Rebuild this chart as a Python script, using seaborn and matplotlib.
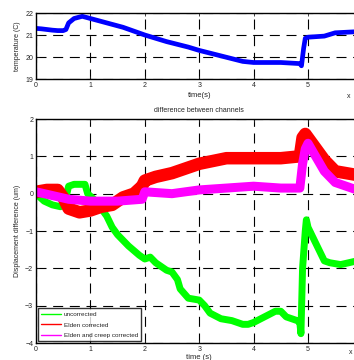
import matplotlib
matplotlib.use("Agg")
import matplotlib.pyplot as plt
import seaborn as sns

# temperature (top panel), time in units of 1e4 s
temp_t = [0.0, 0.1, 0.2, 0.3, 0.4, 0.5, 0.55, 0.6, 0.7, 0.85, 1.0, 1.3, 1.6, 2.0,
          2.4, 2.8, 3.0, 3.4, 3.8, 4.0, 4.5, 4.85, 4.88, 4.92, 4.95, 5.0, 5.3, 5.5, 5.9]
temp_v = [21.3, 21.28, 21.25, 21.22, 21.2, 21.2, 21.25, 21.55, 21.75, 21.85, 21.75, 21.55, 21.35, 21.0,
          20.7, 20.45, 20.3, 20.05, 19.8, 19.75, 19.75, 19.7, 19.6, 20.4, 20.85, 20.9, 20.95, 21.1, 21.15]

# displacement difference (bottom panel)
green_t = [0.0, 0.15, 0.3, 0.45, 0.55, 0.6, 0.7, 0.9, 0.95, 1.1, 1.3, 1.4, 1.5, 1.7, 1.9, 2.0, 2.1,
           2.2, 2.4, 2.5, 2.6, 2.65, 2.8, 3.0, 3.1, 3.2, 3.4, 3.6, 3.8, 3.9, 4.0, 4.2, 4.4, 4.5,
           4.6, 4.8, 4.85, 4.87, 4.9, 4.95, 4.97, 5.0, 5.1, 5.2, 5.3, 5.4, 5.6, 5.9]
green_v = [0.0, -0.2, -0.3, -0.35, -0.1, 0.2, 0.25, 0.25, 0.0, -0.2, -0.6, -0.9, -1.1, -1.4, -1.65, -1.75, -1.7,
           -1.85, -2.05, -2.1, -2.3, -2.55, -2.8, -2.85, -3.0, -3.2, -3.35, -3.4, -3.5, -3.5, -3.45, -3.3, -3.15, -3.15,
           -3.3, -3.4, -3.45, -3.75, -2.0, -1.0, -0.7, -0.9, -1.2, -1.5, -1.8, -1.85, -1.9, -1.8]

red_t = [0.0, 0.2, 0.4, 0.5, 0.6, 0.8, 1.0, 1.2, 1.4, 1.6, 1.8, 1.95, 2.0, 2.2, 2.5, 3.0,
         3.5, 4.0, 4.5, 4.85, 4.9, 4.95, 5.1, 5.3, 5.5, 5.9]
red_v = [0.05, 0.1, 0.1, -0.1, -0.4, -0.5, -0.45, -0.35, -0.3, -0.1, 0.0, 0.2, 0.35, 0.45, 0.55, 0.8,
         0.95, 0.95, 0.95, 1.0, 1.5, 1.6, 1.3, 0.9, 0.6, 0.5]

mag_t = [0.0, 0.3, 0.6, 1.0, 1.5, 1.95, 2.0, 2.5, 3.0, 3.5, 4.0, 4.5, 4.85, 4.9, 4.95, 5.0,
         5.1, 5.3, 5.5, 5.9]
mag_v = [0.05, -0.05, -0.15, -0.2, -0.2, -0.15, 0.05, 0.0, 0.1, 0.15, 0.2, 0.15, 0.15, 0.8, 1.2, 1.35,
         1.1, 0.6, 0.3, 0.1]

labels = ["uncorrected", "Elden corrected", "Elden and creep corrected"]

sns.set_style("white")
plt.rcParams["font.family"] = ["Liberation Sans", "DejaVu Sans"]

fig = plt.figure(figsize=(3.54, 3.6), dpi=100)
W, H = 354.0, 360.0
axw = 6 * 54.4 / W
ax1 = fig.add_axes([36 / W, 1 - 79 / H, axw, 66 / H])
ax2 = fig.add_axes([36 / W, 1 - 343 / H, axw, 224 / H])

grid_kw = dict(color="black", linestyle=(0, (9, 6)), linewidth=0.8)

# top: temperature
sns.lineplot(x=temp_t, y=temp_v, ax=ax1, color="#0000ff", linewidth=3.4, sort=False)
ax1.set_xlim(0, 6)
ax1.set_ylim(19, 22)
ax1.set_yticks([19, 20, 21, 22])
ax1.set_xticks([0, 1, 2, 3, 4, 5])
ax1.set_ylabel("temperature (C)", fontsize=5, labelpad=3)
ax1.set_xlabel("time(s)", fontsize=5.5, labelpad=2)
ax1.text(347 / W, 1 - 96 / H, "x", transform=fig.transFigure, fontsize=5, va="center")

# bottom: difference between channels
sns.lineplot(x=green_t, y=green_v, ax=ax2, color="#00ff00", linewidth=5, sort=False, label=labels[0])
sns.lineplot(x=red_t, y=red_v, ax=ax2, color="#ff0000", linewidth=9, sort=False, label=labels[1])
sns.lineplot(x=mag_t, y=mag_v, ax=ax2, color="#ff00ff", linewidth=6.5, sort=False, label=labels[2])
ax2.set_xlim(0, 6)
ax2.set_ylim(-4, 2)
ax2.set_yticks([-4, -3, -2, -1, 0, 1, 2])
ax2.set_xticks([0, 1, 2, 3, 4, 5])
ax2.set_title("difference between channels", fontsize=5, pad=5)
ax2.set_ylabel("Displacement difference (um)", fontsize=5, labelpad=3)
ax2.set_xlabel("time (s)", fontsize=5.5, labelpad=1)
ax2.text(349 / W, 1 - 353 / H, "x", transform=fig.transFigure, fontsize=5, va="center")

leg = ax2.legend(loc="lower left", fontsize=4.6, frameon=True, fancybox=False,
                 borderaxespad=0.25, handlelength=3.2, handletextpad=0.4,
                 borderpad=0.5, labelspacing=0.8)
leg.get_frame().set_edgecolor("black")
leg.get_frame().set_linewidth(1.0)
for h in leg.get_lines():
    h.set_linewidth(1.0)

for ax in (ax1, ax2):
    ax.grid(True, **grid_kw)
    ax.set_axisbelow(True)
    for s in ax.spines.values():
        s.set_color("black")
        s.set_linewidth(1.0)
    ax.tick_params(direction="in", length=2, width=0.6, labelsize=5, pad=2,
                   top=True, right=True, bottom=True, left=True)

fig.savefig("out.png", dpi=100)
